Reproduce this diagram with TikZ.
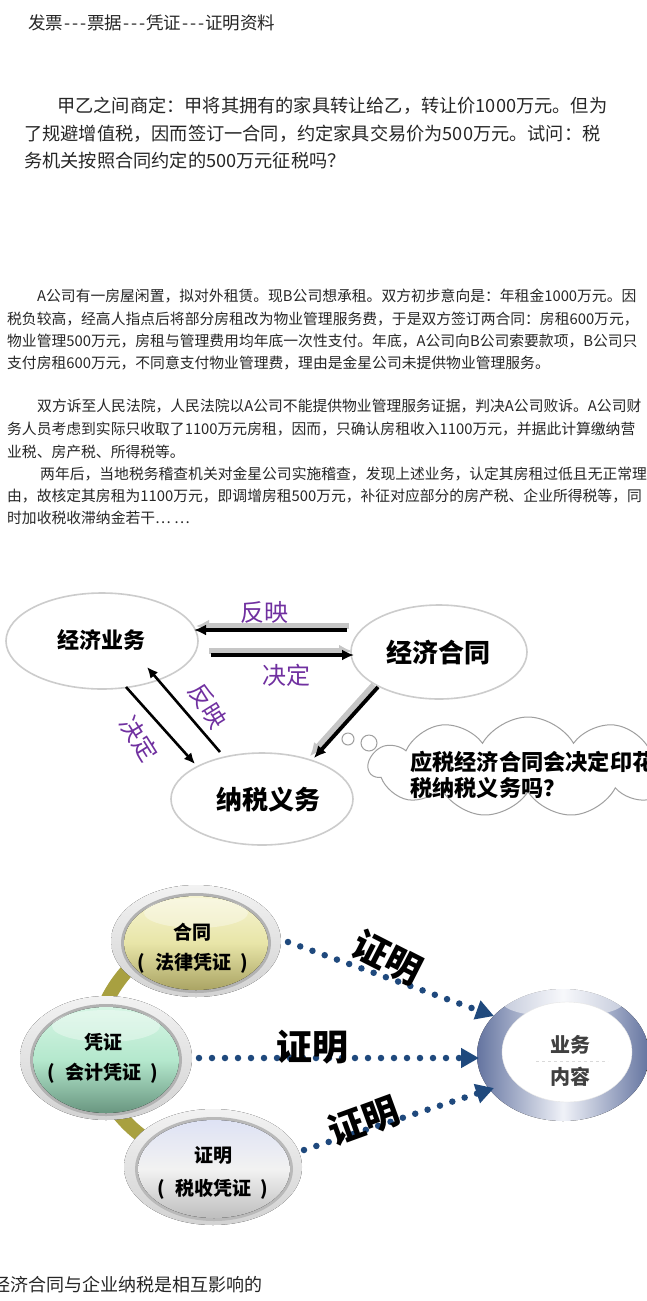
\documentclass[tikz,border=0pt]{standalone}
\usepackage{fontspec}
\setmainfont{Noto Sans CJK SC}
\usetikzlibrary{arrows.meta,shapes.symbols,shapes.geometric}
\XeTeXlinebreaklocale "zh"
\XeTeXlinebreakskip=0pt plus 3pt minus 1.5pt
\newcommand\myhy{\makebox[8pt]{-}}
\newcommand\jline[2]{\hbox to #1pt{#2}}
\newcommand\lpar{(\hspace{0.5em}}
\newcommand\rpar{\hspace{0.5em})}
\definecolor{purp}{RGB}{112,48,160}
\definecolor{dblue}{RGB}{31,73,125}
\definecolor{olivebar}{RGB}{168,160,64}
\tikzset{
 body/.style={anchor=base west, inner sep=0pt, font=\fontsize{14.8}{15}\selectfont, text=black!85},
 bigtxt/.style={anchor=base west, inner sep=0pt, font=\fontsize{18.2}{18}\selectfont, text=black!85},
 oval/.style={ellipse, draw=gray!40, line width=1.6pt, fill=white, inner sep=0pt},
 lbl/.style={inner sep=0pt, font=\fontsize{24}{24}\selectfont, text=purp},
 thinarrow/.style={line width=2.6pt, -{Latex[length=11pt,width=10pt]}},
 shadowline/.style={line width=6.5pt, gray!45, -{Latex[length=13pt,width=13pt]}},
 mainline/.style={line width=3.8pt, -{Latex[length=12pt,width=11pt]}},
 dotline/.style={dblue, line width=6.5pt, line cap=round, dash pattern=on 0pt off 13pt, -{Triangle[length=18pt,width=19pt]}},
 proof/.style={inner sep=0pt, font=\bfseries\fontsize{36}{36}\selectfont},
 spheretxt/.style={inner sep=0pt, font=\bfseries\fontsize{19}{19}\selectfont},
}
\begin{document}
\begin{tikzpicture}[x=1pt,y=-1pt]
\useasboundingbox (0,0) rectangle (647,1301);
\fill[white] (0,0) rectangle (647,1301);

% ---------- texts ----------
\node[anchor=base west, inner sep=0pt, font=\fontsize{17.5}{17.5}\selectfont, text=black!85] (title) at (28,29) {发票\myhy\myhy\myhy 票据\myhy\myhy\myhy 凭证\myhy\myhy\myhy 证明资料};

\node[bigtxt] (p1a) at (57,112) {\jline{551}{甲乙之间商定：甲将其拥有的家具转让给乙，转让价1000万元。但为}};
\node[bigtxt] (p1b) at (24,140) {\jline{584}{了规避增值税，因而签订一合同，约定家具交易价为500万元。试问：税}};
\node[bigtxt] (p1c) at (24,167) {务机关按照合同约定的500万元征税吗？};

\node[body] (p2a) at (37,301) {\jline{600}{A公司有一房屋闲置，拟对外租赁。现B公司想承租。双方初步意向是：年租金1000万元。因}};
\node[body] (p2b) at (7,324) {\jline{633}{税负较高，经高人指点后将部分房租改为物业管理服务费，于是双方签订两合同：房租600万元，}};
\node[body] (p2c) at (7,346) {\jline{632}{物业管理500万元，房租与管理费用均年底一次性支付。年底，A公司向B公司索要款项，B公司只}};
\node[body] (p2d) at (7,368) {支付房租600万元，不同意支付物业管理费，理由是金星公司未提供物业管理服务。};

\node[body] (p3a) at (37,411) {\jline{607}{双方诉至人民法院，人民法院以A公司不能提供物业管理服务证据，判决A公司败诉。A公司财}};
\node[body] (p3b) at (7,434) {\jline{631}{务人员考虑到实际只收取了1100万元房租，因而，只确认房租收入1100万元，并据此计算缴纳营}};
\node[body] (p3c) at (7,457) {业税、房产税、所得税等。};
\node[body] (p3d) at (40,479) {\jline{606}{两年后，当地税务稽查机关对金星公司实施稽查，发现上述业务，认定其房租过低且无正常理}};
\node[body] (p3e) at (7,501) {\jline{637}{由，故核定其房租为1100万元，即调增房租500万元，补征对应部分的房产税、企业所得税等，同}};
\node[body] (p3f) at (7,523) {时加收税收滞纳金若干… …};

% ---------- diagram 1 ----------
\node[oval, minimum width=192, minimum height=96] (biz) at (102,641) {};
\node[inner sep=0pt, font=\bfseries\fontsize{22}{22}\selectfont] (bizt) at (101,640) {经济业务};
\node[oval, minimum width=176, minimum height=94] (con) at (439,652) {};
\node[inner sep=0pt, font=\bfseries\fontsize{26}{26}\selectfont] (cont) at (438,653) {经济合同};
\node[oval, minimum width=182, minimum height=92] (tax) at (262,799) {};
\node[inner sep=0pt, font=\bfseries\fontsize{26}{26}\selectfont] (taxt) at (268,800) {纳税义务};

% cloud
\node[cloud, cloud puffs=11, cloud puff arc=120, aspect=3, draw=gray!75, line width=1pt, fill=white, minimum width=318, minimum height=100] (cloud) at (528,767) {};
\node[circle, draw=gray!75, line width=1pt, minimum size=12, inner sep=0pt] (c1) at (348,739) {};
\node[circle, draw=gray!75, line width=1pt, minimum size=16, inner sep=0pt] (c2) at (369,743) {};
\node[anchor=base west, inner sep=0pt, font=\bfseries\fontsize{22.2}{22}\selectfont] (q1) at (410,770.5) {应税经济合同会决定印花};
\node[anchor=base west, inner sep=0pt, font=\bfseries\fontsize{22.2}{22}\selectfont] (q2) at (410,796.5) {税纳税义务吗？};

% arrow endpoints
\coordinate (a1s) at (347,630); \coordinate (a1e) at (194,630);
\coordinate (a1ss) at (349,626); \coordinate (a1se) at (196,626);
\coordinate (a2s) at (211,655); \coordinate (a2e) at (354,655);
\coordinate (a2ss) at (209,651); \coordinate (a2se) at (352,651);
\coordinate (a3s) at (378,687); \coordinate (a3e) at (314,758);
\coordinate (a3ss) at (374,685); \coordinate (a3se) at (310,756);
\draw[shadowline] (a1ss) -- (a1se);
\draw[mainline] (a1s) -- (a1e);
\draw[shadowline] (a2ss) -- (a2se);
\draw[mainline] (a2s) -- (a2e);
\draw[shadowline] (a3ss) -- (a3se);
\draw[mainline] (a3s) -- (a3e);

\coordinate (d1s) at (126,687); \coordinate (d1e) at (195,764);
\coordinate (d2s) at (220,752); \coordinate (d2e) at (147,667);
\draw[thinarrow] (d1s) -- (d1e);
\draw[thinarrow] (d2s) -- (d2e);

\node[lbl] (l1) at (264,612) {反映};
\node[lbl] (l2) at (286,675) {决定};
\node[lbl, rotate=-58] (l3) at (139,739) {决定};
\node[lbl, rotate=-58] (l4) at (208,706) {反映};

% ---------- diagram 2 ----------
\draw[olivebar, line width=14pt] (140,958) .. controls (80,1010) and (75,1100) .. (160,1148);

% sphere: 合同
\fill[top color=gray!10, bottom color=gray!35] (196,941) ellipse [x radius=85, y radius=56];
\fill[gray!60] (196,943) ellipse [x radius=75, y radius=50];
\fill[top color={rgb,255:red,246;green,244;blue,210}, bottom color={rgb,255:red,170;green,164;blue,100}, middle color={rgb,255:red,232;green,229;blue,168}] (196,943) ellipse [x radius=72, y radius=47];
\fill[white, opacity=0.35] (196,913) ellipse [x radius=52, y radius=15];
\node[spheretxt] (ht) at (192,932) {合同};
\node[spheretxt] (ht2) at (193,963) {\lpar 法律凭证\rpar};

% sphere: 凭证
\fill[top color=gray!10, bottom color=gray!35] (106,1058) ellipse [x radius=86, y radius=62];
\fill[gray!60] (106,1060) ellipse [x radius=76, y radius=56];
\fill[top color={rgb,255:red,214;green,245;blue,228}, bottom color={rgb,255:red,105;green,150;blue,128}, middle color={rgb,255:red,180;green,232;blue,205}] (106,1060) ellipse [x radius=73, y radius=53];
\fill[white, opacity=0.35] (106,1026) ellipse [x radius=54, y radius=16];
\node[spheretxt] (pt) at (103,1042) {凭证};
\node[spheretxt] (pt2) at (103,1073) {\lpar 会计凭证\rpar};

% sphere: 证明
\fill[top color=gray!10, bottom color=gray!35] (213,1167) ellipse [x radius=89, y radius=58];
\fill[gray!55] (214,1169) ellipse [x radius=79, y radius=52];
\fill[top color={rgb,255:red,222;green,226;blue,244}, bottom color={rgb,255:red,190;green,190;blue,190}, middle color={rgb,255:red,242;green,242;blue,242}] (214,1169) ellipse [x radius=76, y radius=49];
\node[spheretxt] (zt) at (213,1155) {证明};
\node[spheretxt] (zt2) at (213,1189) {\lpar 税收凭证\rpar};

% target ring
\fill[left color={rgb,255:red,100;green,116;blue,160}, right color={rgb,255:red,100;green,116;blue,160}, middle color={rgb,255:red,240;green,242;blue,248}] (563,1055) ellipse [x radius=86, y radius=66];
\fill[white, opacity=0.5] (563,1003) ellipse [x radius=60, y radius=14];
\node[ellipse, fill=white, draw=gray!20, minimum width=130, minimum height=100, inner sep=0pt] (yw) at (567,1052) {};
\draw[gray!30, dashed] (536,1061) -- (608,1061);
\node[inner sep=0pt, font=\bfseries\fontsize{20}{20}\selectfont, text=black!75] (ywt) at (570,1045) {业务};
\node[inner sep=0pt, font=\bfseries\fontsize{20}{20}\selectfont, text=black!75] (ywt2) at (570,1077) {内容};

% dotted arrows
\coordinate (s1) at (288,942); \coordinate (e1) at (494,1016);
\coordinate (s2) at (199,1058); \coordinate (e2) at (479,1058);
\coordinate (s3) at (304,1150); \coordinate (e3) at (494,1088);
\draw[dotline] (s1) -- (e1);
\draw[dotline] (s2) -- (e2);
\draw[dotline] (s3) -- (e3);

\node[proof, rotate=-27] (pr1) at (388,958) {证明};
\node[proof] (pr2) at (312,1047) {证明};
\node[proof, rotate=20] (pr3) at (364,1121) {证明};

% caption
\node[anchor=base west, inner sep=0pt, font=\fontsize{18}{18}\selectfont, text=black!85] (cap) at (-8,1291) {经济合同与企业纳税是相互影响的};
\end{tikzpicture}
\end{document}
